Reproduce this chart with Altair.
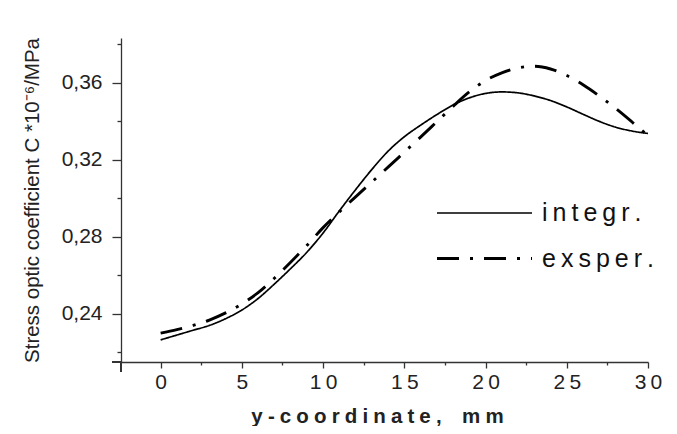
import altair as alt
import pandas as pd

# ---- data ----
x_mm = list(range(0, 31))
integr = [0.2265, 0.2290, 0.2315, 0.2340, 0.2375, 0.2420, 0.2480, 0.2555, 0.2635, 0.2720,
          0.2820, 0.2935, 0.3045, 0.3150, 0.3245, 0.3320, 0.3380, 0.3435, 0.3485, 0.3522,
          0.3545, 0.3553, 0.3548, 0.3532, 0.3508, 0.3475, 0.3437, 0.3400, 0.3370, 0.3350,
          0.3337]
exsper = [0.2300, 0.2318, 0.2340, 0.2368, 0.2405, 0.2452, 0.2510, 0.2585, 0.2668, 0.2755,
          0.2848, 0.2930, 0.3008, 0.3085, 0.3162, 0.3240, 0.3318, 0.3398, 0.3478, 0.3553,
          0.3612, 0.3652, 0.3678, 0.3686, 0.3672, 0.3638, 0.3590, 0.3532, 0.3468, 0.3398,
          0.3325]
series_names = ["integr.", "exsper."]
x_ticks = [0, 2.5, 5, 7.5, 10, 12.5, 15, 17.5, 20, 22.5, 25, 27.5, 30]
y_ticks = [0.22, 0.24, 0.26, 0.28, 0.30, 0.32, 0.34, 0.36, 0.38]

df = pd.DataFrame({
    "x": x_mm + x_mm,
    "y": integr + exsper,
    "series": [series_names[0]] * len(x_mm) + [series_names[1]] * len(x_mm),
})

TS = chr(0x2009)   # thin space for letter spacing
QS = chr(0x2005)   # four-per-em space
ES = chr(0x2002)   # en space
FONT = "Liberation Sans"
W, H = 527, 324
AX = "#333333"

x_title = QS.join(list("y-coordinate,")) + ES + ES + QS.join(list("mm"))
y_title = "Stress optic coefficient C *10\u207b\u2076/MPa"

legend = alt.Legend(
    title=None, orient="none", legendX=350, legendY=162,
    symbolType="M-4,0H4", symbolSize=564, symbolStrokeColor="black",
    labelFont=FONT, labelFontSize=25, labelColor="#111",
    labelExpr=f"join(split(datum.label, ''), '{TS}')",
    labelOffset=44, rowPadding=19, padding=0,
)

lines = alt.Chart(df).mark_line(interpolate="monotone", color="black").encode(
    x=alt.X("x:Q",
            scale=alt.Scale(domain=[-2.44, 30], nice=False, zero=False),
            axis=alt.Axis(values=x_ticks, grid=False, title=x_title,
                          labelExpr=f"datum.value % 5 == 0 ? join(split(datum.label, ''), '{TS}') : ''",
                          labelOverlap=False, labelFlush=False,
                          tickSize={"condition": {"test": "datum.value % 5 == 0", "value": 6}, "value": 3},
                          labelFontSize=21, labelPadding=3, titleFontSize=20.5,
                          titleFontWeight="bold", titlePadding=14, titleX=256)),
    y=alt.Y("y:Q",
            scale=alt.Scale(domain=[0.215, 0.3833], nice=False, zero=False),
            axis=alt.Axis(values=y_ticks, grid=False, title=y_title,
                          labelExpr="round(datum.value*100) % 4 == 0 ? replace(format(datum.value, '.2f'), '.', ',') : ''",
                          labelOverlap=False, labelFlush=False,
                          tickSize={"condition": {"test": "round(datum.value*100) % 4 == 0", "value": 9}, "value": 4},
                          labelFontSize=21, labelPadding=10, titleFontSize=20.5,
                          titleFontWeight="normal", titlePadding=19)),
    strokeDash=alt.StrokeDash("series:N",
                              scale=alt.Scale(domain=series_names, range=[[1, 0], [22, 11, 3, 11]]),
                              legend=legend),
    strokeWidth=alt.StrokeWidth("series:N",
                                scale=alt.Scale(domain=series_names, range=[1.7, 2.9]),
                                legend=legend),
)

ext_x = alt.Chart(df).mark_rule(color=AX, strokeWidth=1.3).encode(
    x=alt.value(-8.5), x2=alt.value(0), y=alt.value(H))
ext_y = alt.Chart(df).mark_rule(color=AX, strokeWidth=1.3).encode(
    x=alt.value(0), y=alt.value(H), y2=alt.value(H + 10))

chart = alt.layer(lines, ext_x, ext_y).properties(
    width=W, height=H,
    padding={"left": 113, "top": 30, "right": 21, "bottom": 64},
    autosize=alt.AutoSizeParams(type="none"),
).configure_view(stroke=None).configure_axis(
    domainColor=AX, tickColor=AX, domainWidth=1.3, tickWidth=1.3,
    labelFont=FONT, titleFont=FONT, labelColor="#222", titleColor="#222",
)

chart.save("out.html", embed_options={"renderer": "svg", "actions": False})
